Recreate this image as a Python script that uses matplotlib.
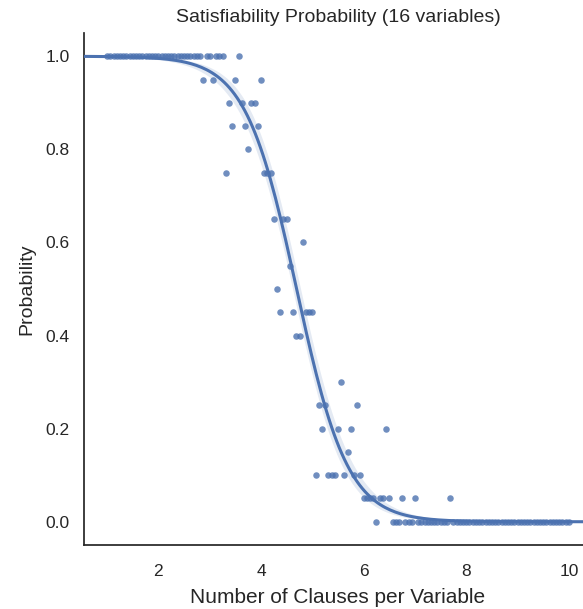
import numpy as np
import matplotlib
matplotlib.use('Agg')
import matplotlib.pyplot as plt
import seaborn as sns

sns.set_style('white')
plt.rcParams['font.family'] = ['Liberation Sans', 'DejaVu Sans']

# clauses per variable (16 variables, 16..160 clauses)
n_vars = 16
n_trials = 20
clauses = np.arange(16, 161)

# fraction of satisfiable random instances
sat_prob = ([1.0] * 30 +                                            # 16-45
            [0.95, 1.0, 1.0, 0.95, 1.0, 1.0, 1.0,                   # 46-52
             0.75, 0.9, 0.85, 0.95, 1.0, 0.9, 0.85, 0.8, 0.9, 0.9,  # 53-62
             0.85, 0.95, 0.75, 0.75, 0.75, 0.65, 0.5, 0.45, 0.65,   # 63-71
             0.65, 0.55, 0.45, 0.4, 0.4, 0.6, 0.45, 0.45, 0.45,     # 72-80
             0.1, 0.25, 0.2, 0.25, 0.1, 0.1, 0.1, 0.2, 0.3, 0.1,    # 81-90
             0.15, 0.2, 0.1, 0.25, 0.1,                             # 91-95
             0.05, 0.05, 0.05, 0.05, 0.0, 0.05, 0.05, 0.2, 0.05,    # 96-104
             0.0, 0.0, 0.0, 0.05, 0.0, 0.0, 0.0, 0.05] +            # 105-112
            [0.0] * 10 + [0.05] + [0.0] * 37)                       # 113-160

x = clauses / n_vars
y = np.array(sat_prob)

blue = '#4C72B0'

fig = plt.figure(figsize=(5.83, 6.09), dpi=100)
ax = fig.add_axes([84 / 583, 1 - 545 / 609, (592 - 84) / 583, (545 - 33) / 609])

ax.scatter(x, y, s=22, color=blue, alpha=0.8, linewidths=0, zorder=3)
ax.set_xlim(0.55, 10.45)
ax.set_ylim(-0.05, 1.05)

# logistic fit (binomial GLM via IRLS)
X = np.column_stack([np.ones_like(x), x])
beta = np.zeros(2)
for _ in range(50):
    p = 1 / (1 + np.exp(-X @ beta))
    w = np.clip(p * (1 - p), 1e-9, None)
    z = X @ beta + (y - p) / w
    beta = np.linalg.solve(X.T @ (w[:, None] * X), X.T @ (w * z))
p = 1 / (1 + np.exp(-X @ beta))
w = n_trials * p * (1 - p)
cov = np.linalg.inv(X.T @ (w[:, None] * X))

xg = np.linspace(0.55, 10.45, 200)
Xg = np.column_stack([np.ones_like(xg), xg])
eta = Xg @ beta
se = np.sqrt(np.einsum('ij,jk,ik->i', Xg, cov, Xg))
fit = 1 / (1 + np.exp(-eta))
lo = 1 / (1 + np.exp(-(eta - 1.96 * se)))
hi = 1 / (1 + np.exp(-(eta + 1.96 * se)))

ax.fill_between(xg, lo, hi, color=blue, alpha=0.15, linewidth=0)
ax.plot(xg, fit, color=blue, linewidth=2.2, zorder=4)

ax.set_xticks([2, 4, 6, 8, 10])
ax.set_yticks([0.0, 0.2, 0.4, 0.6, 0.8, 1.0])
ax.tick_params(labelsize=12.5, colors='#262626')
ax.tick_params(axis='x', pad=10)
ax.tick_params(axis='y', pad=7)
ax.set_xlabel('Number of Clauses per Variable', fontsize=15, color='#262626', labelpad=7)
ax.set_ylabel('Probability', fontsize=14, color='#262626', labelpad=7)
ax.set_title('Satisfiability Probability (16 variables)', fontsize=14, color='#262626', pad=8)
for side in ['top', 'right']:
    ax.spines[side].set_visible(False)
for side in ['left', 'bottom']:
    ax.spines[side].set_color('#262626')
    ax.spines[side].set_linewidth(1.25)

fig.savefig('out.png', dpi=100)
